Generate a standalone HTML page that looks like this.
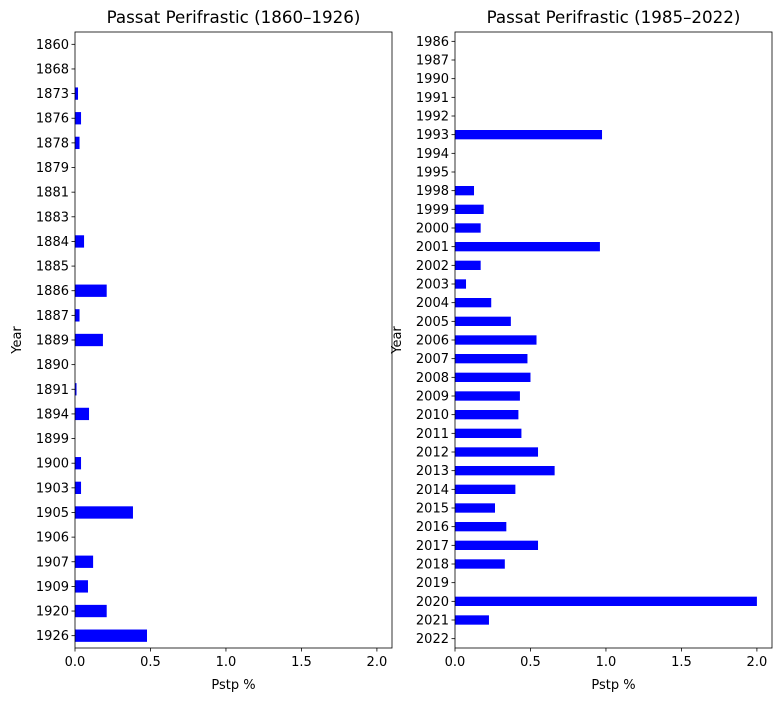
<!DOCTYPE html>
<html><head><meta charset="utf-8"><style>
html,body{margin:0;padding:0;background:#fff;}
svg text{font-family:"DejaVu Sans","Liberation Sans",sans-serif;fill:#000;}
</style></head><body>
<svg id="chart" width="782" height="701" xmlns="http://www.w3.org/2000/svg"></svg>
<script>
const leftYears = ["1860","1868","1873","1876","1878","1879","1881","1883","1884","1885","1886","1887","1889","1890","1891","1894","1899","1900","1903","1905","1906","1907","1909","1920","1926"];
const leftValues = [0,0,0.02,0.04,0.03,0,0,0,0.06,0,0.21,0.03,0.185,0,0.01,0.093,0,0.04,0.04,0.384,0,0.12,0.086,0.21,0.477];
const rightYears = ["1986","1987","1990","1991","1992","1993","1994","1995","1998","1999","2000","2001","2002","2003","2004","2005","2006","2007","2008","2009","2010","2011","2012","2013","2014","2015","2016","2017","2018","2019","2020","2021","2022"];
const rightValues = [0,0,0,0,0,0.974,0,0,0.126,0.19,0.17,0.96,0.17,0.073,0.24,0.37,0.54,0.48,0.50,0.43,0.42,0.44,0.55,0.66,0.40,0.265,0.34,0.55,0.33,0,2.0,0.225,0];
const xTicks = [0,0.5,1.0,1.5,2.0];
const xTickLabels = ["0.0","0.5","1.0","1.5","2.0"];
const leftTitle = "Passat Perifrastic (1860\u20131926)";
const rightTitle = "Passat Perifrastic (1985\u20132022)";

const svg = document.getElementById('chart');
const NS = "http://www.w3.org/2000/svg";
function mk(tag, attrs, parent){
  const e = document.createElementNS(NS, tag);
  for (const k in attrs) e.setAttribute(k, attrs[k]);
  (parent||svg).appendChild(e);
  return e;
}
function panel(x0, y0, w, h, cats, vals, title, key){
  const g = mk('g', {});
  
  
  const xmax = 2.1;
  const xs = v => x0 + v / xmax * w;
  const step = h / cats.length;
  const ys = i => y0 + step * (i + 0.5);
  cats.forEach((c, i) => {
    const r = mk('rect', {x: xs(0), y: ys(i) - step * 0.25, width: Math.max(0, xs(vals[i]) - xs(0)), height: step * 0.5, fill: '#0000ff'}, g);
    
    
    mk('line', {x1: x0 - 3.5, x2: x0, y1: ys(i), y2: ys(i), stroke: '#000', 'stroke-width': 0.8}, g);
    const t = mk('text', {x: x0 - 6, y: ys(i) + 4.5, 'text-anchor': 'end', 'font-size': 13}, g);
    t.textContent = c;
    
    
  });
  xTicks.forEach((v, i) => {
    mk('line', {x1: xs(v), x2: xs(v), y1: y0 + h, y2: y0 + h + 3.5, stroke: '#000', 'stroke-width': 0.8}, g);
    const t = mk('text', {x: xs(v), y: y0 + h + 18, 'text-anchor': 'middle', 'font-size': 13}, g);
    t.textContent = xTickLabels[i];
    
    
  });
  const fr = mk('rect', {x: x0, y: y0, width: w, height: h, fill: 'none', stroke: '#000', 'stroke-width': 0.8}, g);
  
  
  const tt = mk('text', {x: x0 + w / 2, y: y0 - 9, 'text-anchor': 'middle', 'font-size': 16.7}, g);
  tt.textContent = title;
  
  
  const xl = mk('text', {x: x0 + w / 2, y: y0 + h + 41, 'text-anchor': 'middle', 'font-size': 13}, g);
  xl.textContent = 'Pstp %';
  
  
  const yl = mk('text', {x: 0, y: 0, 'text-anchor': 'middle', 'font-size': 13, transform: 'translate(' + (x0 - 54) + ',' + (y0 + h / 2) + ') rotate(-90)'}, g);
  yl.textContent = 'Year';
  
  
}
panel(75, 32, 317, 616, leftYears, leftValues, leftTitle, 'left');
panel(455, 32, 317, 616, rightYears, rightValues, rightTitle, 'right');
</script>
</body></html>
